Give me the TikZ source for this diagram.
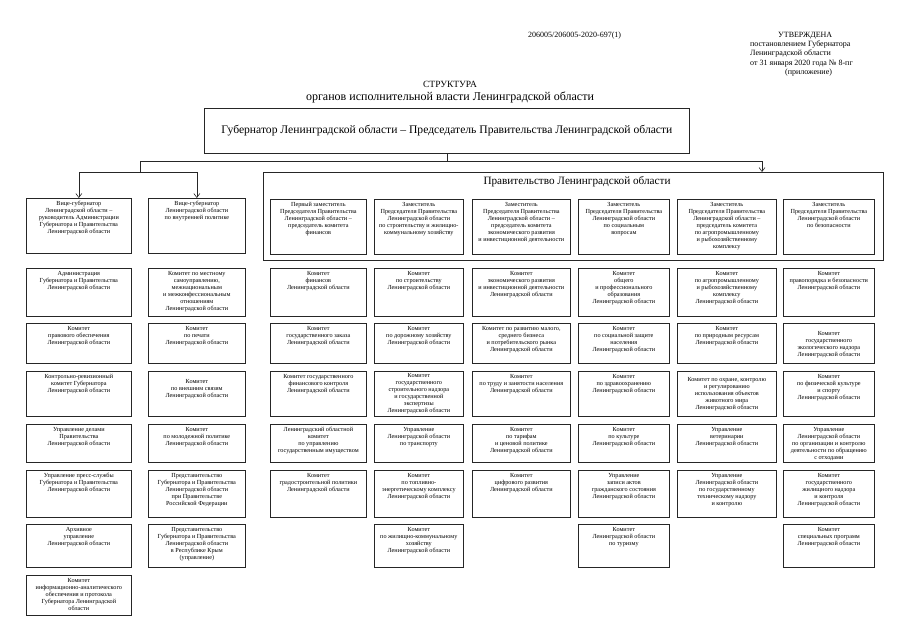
\documentclass[tikz,border=0pt]{standalone}
\usepackage{fontspec}
\setmainfont{Liberation Serif}
\usetikzlibrary{arrows.meta,positioning}

\tikzset{
  unit/.style={draw=black!85, line width=0.7pt, inner sep=0pt, anchor=north west},
  utext/.style={anchor=north, align=center, font=\fontsize{6.2}{7}\selectfont, inner sep=0pt, yshift=-3pt},
  arr/.style={-{Straight Barb[length=4pt,width=6pt]}, line width=0.6pt, draw=black!85},
  % column widths
  cw1/.style={minimum width=105pt}, cw2/.style={minimum width=97pt},
  cw3/.style={minimum width=96pt},  cw4/.style={minimum width=89pt},
  cw5/.style={minimum width=98pt},  cw6/.style={minimum width=91pt},
  cw7/.style={minimum width=99pt},  cw8/.style={minimum width=91pt},
  % row heights
  rh0/.style={minimum height=55pt}, rh1/.style={minimum height=48pt},
  rh2/.style={minimum height=40pt}, rh3/.style={minimum height=45pt},
  rh4/.style={minimum height=38pt}, rh5/.style={minimum height=47pt},
  rh6/.style={minimum height=43pt}, rh7/.style={minimum height=40pt},
}

\begin{document}
\begin{tikzpicture}[x=1pt,y=-1pt]
  \useasboundingbox[fill=white] (0,0) rectangle (902,640);

  % Header
  \node[anchor=west, font=\fontsize{8}{9.2}\selectfont, inner sep=0pt] (docid) at (528,36) {206005/206005-2020-697(1)};
  \node[anchor=north west, align=left, font=\fontsize{8}{9.2}\selectfont, inner sep=0pt] (approved) at (750,32)
    {\hspace*{28pt}УТВЕРЖДЕНА\\постановлением Губернатора\\Ленинградской области\\от 31 января 2020 года № 8-пг\\\hspace*{35pt}(приложение)};
  \node[font=\fontsize{9.5}{11}\selectfont, inner sep=0pt] (title) at (450,84) {СТРУКТУРА};
  \node[font=\fontsize{12}{13}\selectfont, inner sep=0pt] (subtitle) at (450,97)
    {органов исполнительной власти Ленинградской области};

  % Governor and Government
  \node[unit, minimum width=485pt, minimum height=45pt, font=\fontsize{11.6}{13}\selectfont] (gov) at (204,108)
    {Губернатор Ленинградской области – Председатель Правительства Ленинградской области};
  \node[unit, minimum width=620pt, minimum height=88pt] (govt) at (263,172) {};
  \node[font=\fontsize{11.2}{13}\selectfont, inner sep=0pt] (govtname) at (577,182) {Правительство Ленинградской области};

  % Connectors
  \coordinate (bus) at (gov.south |- 0,161);
  \coordinate (lbus) at (140,161);
  \coordinate (rbus) at (762,161);
  \coordinate (vbus) at (140,172);
  \draw[line width=0.6pt, black!85] (gov.south) -- (bus);
  \draw[line width=0.6pt, black!85] (vbus) -- (lbus) -- (rbus);
  \draw[arr] (rbus) -- (rbus |- govt.north);

  % Column 1
  \node[unit,cw1,rh0,label={[utext]north:{Вице-губернатор\\Ленинградской области –\\руководитель Администрации\\Губернатора и Правительства\\Ленинградской области}}] (vg1) at (26,198) {};
  \node[unit,cw1,rh1,label={[utext]north:{Администрация\\Губернатора и Правительства\\Ленинградской области}}] (c1r1) at (26,268) {};
  \node[unit,cw1,rh2,label={[utext]north:{Комитет\\правового обеспечения\\Ленинградской области}}] (c1r2) at (26,323) {};
  \node[unit,cw1,rh3,label={[utext]north:{Контрольно-ревизионный\\комитет Губернатора\\Ленинградской области}}] (c1r3) at (26,371) {};
  \node[unit,cw1,rh4,label={[utext]north:{Управление делами\\Правительства\\Ленинградской области}}] (c1r4) at (26,424) {};
  \node[unit,cw1,rh5,label={[utext]north:{Управление пресс-службы\\Губернатора и Правительства\\Ленинградской области}}] (c1r5) at (26,470) {};
  \node[unit,cw1,rh6,label={[utext]north:{Архивное\\управление\\Ленинградской области}}] (c1r6) at (26,524) {};
  \node[unit,cw1,rh7,label={[utext]north:{Комитет\\информационно-аналитического\\обеспечения и протокола\\Губернатора Ленинградской\\области}}] (c1r7) at (26,575) {};

  % Column 2
  \node[unit,cw2,rh0,label={[utext]north:{Вице-губернатор\\Ленинградской области\\по внутренней политике}}] (vg2) at (148,198) {};
  \node[unit,cw2,rh1,label={[utext]north:{Комитет по местному\\самоуправлению,\\межнациональным\\и межконфессиональным\\отношениям\\Ленинградской области}}] (c2r1) at (148,268) {};
  \node[unit,cw2,rh2,label={[utext]north:{Комитет\\по печати\\Ленинградской области}}] (c2r2) at (148,323) {};
  \node[unit,cw2,rh3,label={[utext,yshift=-5pt]north:{Комитет\\по внешним связям\\Ленинградской области}}] (c2r3) at (148,371) {};
  \node[unit,cw2,rh4,label={[utext]north:{Комитет\\по молодежной политике\\Ленинградской области}}] (c2r4) at (148,424) {};
  \node[unit,cw2,rh5,label={[utext]north:{Представительство\\Губернатора и Правительства\\Ленинградской области\\при Правительстве\\Российской Федерации}}] (c2r5) at (148,470) {};
  \node[unit,cw2,rh6,label={[utext]north:{Представительство\\Губернатора и Правительства\\Ленинградской области\\в Республике Крым\\(управление)}}] (c2r6) at (148,524) {};

  \draw[arr] (vbus) -| (vg1.north);
  \draw[arr] (vbus) -| (vg2.north);

  % Column 3
  \node[unit,cw3,rh0,label={[utext]north:{Первый заместитель\\Председателя Правительства\\Ленинградской области –\\председатель комитета\\финансов}}] (dep3) at (270,199) {};
  \node[unit,cw3,rh1,label={[utext]north:{Комитет\\финансов\\Ленинградской области}}] (c3r1) at (270,268) {};
  \node[unit,cw3,rh2,label={[utext]north:{Комитет\\государственного заказа\\Ленинградской области}}] (c3r2) at (270,323) {};
  \node[unit,cw3,rh3,label={[utext]north:{Комитет государственного\\финансового контроля\\Ленинградской области}}] (c3r3) at (270,371) {};
  \node[unit,cw3,rh4,label={[utext]north:{Ленинградский областной\\комитет\\по управлению\\государственным имуществом}}] (c3r4) at (270,424) {};
  \node[unit,cw3,rh5,label={[utext]north:{Комитет\\градостроительной политики\\Ленинградской области}}] (c3r5) at (270,470) {};

  % Column 4
  \node[unit,cw4,rh0,label={[utext]north:{Заместитель\\Председателя Правительства\\Ленинградской области\\по строительству и жилищно-\\коммунальному хозяйству}}] (dep4) at (374,199) {};
  \node[unit,cw4,rh1,label={[utext]north:{Комитет\\по строительству\\Ленинградской области}}] (c4r1) at (374,268) {};
  \node[unit,cw4,rh2,label={[utext]north:{Комитет\\по дорожному хозяйству\\Ленинградской области}}] (c4r2) at (374,323) {};
  \node[unit,cw4,rh3,label={[utext,yshift=1pt]north:{Комитет\\государственного\\строительного надзора\\и государственной\\экспертизы\\Ленинградской области}}] (c4r3) at (374,371) {};
  \node[unit,cw4,rh4,label={[utext]north:{Управление\\Ленинградской области\\по транспорту}}] (c4r4) at (374,424) {};
  \node[unit,cw4,rh5,label={[utext]north:{Комитет\\по топливно-\\энергетическому комплексу\\Ленинградской области}}] (c4r5) at (374,470) {};
  \node[unit,cw4,rh6,label={[utext]north:{Комитет\\по жилищно-коммунальному\\хозяйству\\Ленинградской области}}] (c4r6) at (374,524) {};

  % Column 5
  \node[unit,cw5,rh0,label={[utext]north:{Заместитель\\Председателя Правительства\\Ленинградской области –\\председатель комитета\\экономического развития\\и инвестиционной деятельности}}] (dep5) at (472,199) {};
  \node[unit,cw5,rh1,label={[utext]north:{Комитет\\экономического развития\\и инвестиционной деятельности\\Ленинградской области}}] (c5r1) at (472,268) {};
  \node[unit,cw5,rh2,label={[utext]north:{Комитет по развитию малого,\\среднего бизнеса\\и потребительского рынка\\Ленинградской области}}] (c5r2) at (472,323) {};
  \node[unit,cw5,rh3,label={[utext]north:{Комитет\\по труду и занятости населения\\Ленинградской области}}] (c5r3) at (472,371) {};
  \node[unit,cw5,rh4,label={[utext]north:{Комитет\\по тарифам\\и ценовой политике\\Ленинградской области}}] (c5r4) at (472,424) {};
  \node[unit,cw5,rh5,label={[utext]north:{Комитет\\цифрового развития\\Ленинградской области}}] (c5r5) at (472,470) {};

  % Column 6
  \node[unit,cw6,rh0,label={[utext]north:{Заместитель\\Председателя Правительства\\Ленинградской области\\по социальным\\вопросам}}] (dep6) at (578,199) {};
  \node[unit,cw6,rh1,label={[utext]north:{Комитет\\общего\\и профессионального\\образования\\Ленинградской области}}] (c6r1) at (578,268) {};
  \node[unit,cw6,rh2,label={[utext]north:{Комитет\\по социальной защите\\населения\\Ленинградской области}}] (c6r2) at (578,323) {};
  \node[unit,cw6,rh3,label={[utext]north:{Комитет\\по здравоохранению\\Ленинградской области}}] (c6r3) at (578,371) {};
  \node[unit,cw6,rh4,label={[utext]north:{Комитет\\по культуре\\Ленинградской области}}] (c6r4) at (578,424) {};
  \node[unit,cw6,rh5,label={[utext]north:{Управление\\записи актов\\гражданского состояния\\Ленинградской области}}] (c6r5) at (578,470) {};
  \node[unit,cw6,rh6,label={[utext]north:{Комитет\\Ленинградской области\\по туризму}}] (c6r6) at (578,524) {};

  % Column 7
  \node[unit,cw7,rh0,label={[utext]north:{Заместитель\\Председателя Правительства\\Ленинградской области –\\председатель комитета\\по агропромышленному\\и рыбохозяйственному\\комплексу}}] (dep7) at (677,199) {};
  \node[unit,cw7,rh1,label={[utext]north:{Комитет\\по агропромышленному\\и рыбохозяйственному\\комплексу\\Ленинградской области}}] (c7r1) at (677,268) {};
  \node[unit,cw7,rh2,label={[utext]north:{Комитет\\по природным ресурсам\\Ленинградской области}}] (c7r2) at (677,323) {};
  \node[unit,cw7,rh3,label={[utext,yshift=-3pt]north:{Комитет по охране, контролю\\и регулированию\\использования объектов\\животного мира\\Ленинградской области}}] (c7r3) at (677,371) {};
  \node[unit,cw7,rh4,label={[utext]north:{Управление\\ветеринарии\\Ленинградской области}}] (c7r4) at (677,424) {};
  \node[unit,cw7,rh5,label={[utext]north:{Управление\\Ленинградской области\\по государственному\\техническому надзору\\и контролю}}] (c7r5) at (677,470) {};

  % Column 8
  \node[unit,cw8,rh0,label={[utext]north:{Заместитель\\Председателя Правительства\\Ленинградской области\\по безопасности}}] (dep8) at (783,199) {};
  \node[unit,cw8,rh1,label={[utext]north:{Комитет\\правопорядка и безопасности\\Ленинградской области}}] (c8r1) at (783,268) {};
  \node[unit,cw8,rh2,label={[utext,yshift=-5pt]north:{Комитет\\государственного\\экологического надзора\\Ленинградской области}}] (c8r2) at (783,323) {};
  \node[unit,cw8,rh3,label={[utext]north:{Комитет\\по физической культуре\\и спорту\\Ленинградской области}}] (c8r3) at (783,371) {};
  \node[unit,cw8,rh4,label={[utext]north:{Управление\\Ленинградской области\\по организации и контролю\\деятельности по обращению\\с отходами}}] (c8r4) at (783,424) {};
  \node[unit,cw8,rh5,label={[utext]north:{Комитет\\государственного\\жилищного надзора\\и контроля\\Ленинградской области}}] (c8r5) at (783,470) {};
  \node[unit,cw8,rh6,label={[utext]north:{Комитет\\специальных программ\\Ленинградской области}}] (c8r6) at (783,524) {};
\end{tikzpicture}
\end{document}
